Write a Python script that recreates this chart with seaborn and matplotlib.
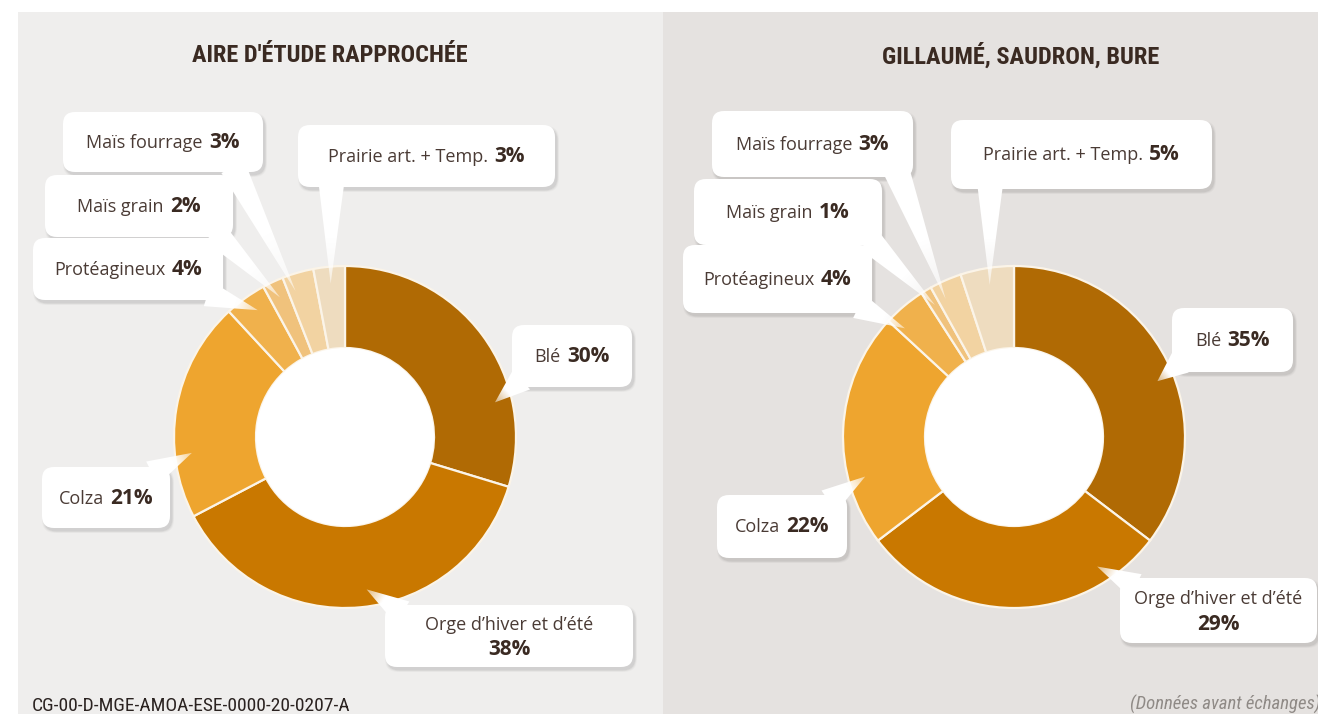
import numpy as np
import matplotlib
matplotlib.use("Agg")
import matplotlib.pyplot as plt
import seaborn as sns
from matplotlib import font_manager
from matplotlib.patches import FancyBboxPatch, Polygon, Rectangle

sns.set_theme(style="white")
plt.rcParams["font.family"] = ["Open Sans", "DejaVu Sans"]

W, H = 1318, 714

# ---- data -------------------------------------------------------------
categories = ["Blé", "Orge d’hiver et d’été", "Colza", "Protéagineux",
              "Maïs grain", "Maïs fourrage", "Prairie art. + Temp."]
values_aire = [30, 38, 21, 4, 2, 3, 3]
values_communes = [35, 29, 22, 4, 1, 3, 5]
panel_titles = ["AIRE D'ÉTUDE RAPPROCHÉE", "GILLAUMÉ, SAUDRON, BURE"]
ref_note = "CG-00-D-MGE-AMOA-ESE-0000-20-0207-A"
data_note = "(Données avant échanges)"

palette = sns.color_palette(["#b06a04", "#c97800", "#eea52f", "#f0b14c",
                             "#f0c27c", "#f2d3a2", "#eedcbf"])
TXT = "#3a2a22"
TXT_NAME = "#4a3b35"

# narrowest available family for the headings
_installed = {f.name for f in font_manager.fontManager.ttflist}
_narrow = [f for f in ["Liberation Sans Narrow", "DejaVu Sans Condensed",
                       "Roboto Condensed", "Open Sans Condensed", "Lato"]
           if f in _installed]
TITLE_FONT = (_narrow[:1] or ["DejaVu Sans"]) + ["DejaVu Sans"]

# ---- layout (pixels, y measured from the top) -------------------------
# label boxes: (x0, y0, x1, y1); tail base as fraction of box (rx, ry from bottom);
# tip position as fraction across the wedge angle
two_line = [False, True, False, False, False, False, False]
panels = [
    dict(values=values_aire, title=panel_titles[0], x0=18, x1=663, bg="#efeeed",
         center=(345, 437), title_x=330, title_w=276,
         boxes=[(512, 325, 632, 387), (385, 605, 633, 667), (42, 467, 170, 528),
                (33, 238, 223, 300), (45, 175, 233, 237), (63, 112, 263, 172),
                (298, 125, 555, 187)],
         bases=[(0.08, 0.12), (0.07, 0.88), (0.86, 0.9), (0.92, 0.1),
                (0.9, 0.08), (0.85, 0.08), (0.13, 0.08)],
         tips=[0.28, 0.52, 0.71, 0.42, 0.5, 0.75, 0.5]),
    dict(values=values_communes, title=panel_titles[1], x0=663, x1=W, bg="#e5e2e0",
         center=(1014, 437), title_x=1021, title_w=278,
         boxes=[(1172, 308, 1293, 372), (1120, 578, 1317, 643), (717, 495, 847, 558),
                (683, 245, 872, 313), (694, 179, 882, 245), (712, 111, 913, 177),
                (951, 120, 1212, 189)],
         bases=[(0.07, 0.15), (0.08, 0.88), (0.86, 0.9), (0.93, 0.1),
                (0.93, 0.08), (0.92, 0.08), (0.15, 0.08)],
         tips=[0.46, 0.81, 0.72, 0.85, 0.5, 0.75, 0.5]),
]

R_OUT, R_IN = 171, 89

fig = plt.figure(figsize=(W / 100, H / 100), dpi=100)
fig.patch.set_facecolor("white")
ax = fig.add_axes([0, 0, 1, 1])
renderer = fig.canvas.get_renderer()


def up(py):
    return H - py


def fit_width(txt, width):
    """Scale a text's font size so that it spans the given width in pixels."""
    cur = txt.get_window_extent(renderer).width
    txt.set_fontsize(txt.get_fontsize() * width / cur)


def draw_tail(base, tip, hw=13):
    b = np.asarray(base, float)
    t = np.asarray(tip, float)
    d = t - b
    L = np.hypot(*d)
    u = d / L
    n = np.array([-u[1], u[0]])
    poly = np.array([b + n * hw, b - n * hw, t])
    clip = Polygon(poly, closed=True, fc="none", ec="none")
    ax.add_patch(clip)
    xmin, ymin = poly.min(0) - 2
    xmax, ymax = poly.max(0) + 2
    nx, ny = int(xmax - xmin) + 2, int(ymax - ymin) + 2
    X, Y = np.meshgrid(np.linspace(xmin, xmax, nx), np.linspace(ymin, ymax, ny))
    s = ((X - b[0]) * u[0] + (Y - b[1]) * u[1]) / L
    img = np.ones((ny, nx, 4))
    img[..., 3] = np.clip(1 - 0.5 * (s - 0.55) / 0.45, 0.5, 1.0)
    im = ax.imshow(img, extent=(xmin, xmax, ymin, ymax), origin="lower",
                   aspect="auto", interpolation="bilinear", zorder=3)
    im.set_clip_path(clip)


def draw_box(box):
    x0, y0, x1, y1 = box
    w, h = x1 - x0, y1 - y0
    for grow, a in [(4, 0.025), (2.5, 0.04), (1, 0.06)]:
        ax.add_patch(FancyBboxPatch((x0 + 2 - grow / 2, up(y1) - 3 - grow / 2),
                                    w + grow, h + grow,
                                    boxstyle="round,pad=0,rounding_size=13",
                                    fc="black", ec="none", alpha=a, zorder=2))
    ax.add_patch(FancyBboxPatch((x0, up(y1)), w, h,
                                boxstyle="round,pad=0,rounding_size=12",
                                fc="white", ec="none", zorder=4))


def draw_label(box, name, value, split):
    x0, y0, x1, y1 = box
    cx = (x0 + x1) / 2
    cy = up((y0 + y1) / 2)
    pct = f"{value}%"
    if split:
        ax.text(cx, cy + 6, name, ha="center", va="baseline", fontsize=13,
                color=TXT_NAME, zorder=5)
        ax.text(cx, cy - 19, pct, ha="center", va="baseline", fontsize=15,
                fontweight="bold", color=TXT, zorder=5)
        return
    t1 = ax.text(0, cy - 6, name, ha="left", va="baseline", fontsize=13,
                 color=TXT_NAME, zorder=5)
    t2 = ax.text(0, cy - 6, pct, ha="left", va="baseline", fontsize=15,
                 fontweight="bold", color=TXT, zorder=5)
    w1 = t1.get_window_extent(renderer).width
    w2 = t2.get_window_extent(renderer).width
    gap = 6
    start = cx - (w1 + gap + w2) / 2
    t1.set_x(start)
    t2.set_x(start + w1 + gap)


for p in panels:
    ax.add_patch(Rectangle((p["x0"], 0), p["x1"] - p["x0"], H - 12,
                           fc=p["bg"], ec="none", zorder=0))
    cx, cy = p["center"][0], up(p["center"][1])
    wedges, _ = ax.pie(p["values"], colors=palette, startangle=90,
                       counterclock=False, radius=R_OUT, center=(cx, cy),
                       frame=True,
                       wedgeprops=dict(width=R_OUT - R_IN, edgecolor="#fbf4e8",
                                       linewidth=1.6))
    ax.add_patch(plt.Circle((cx, cy), R_IN, fc="white", ec="none", zorder=1.5))

    for i, (wdg, name, val) in enumerate(zip(wedges, categories, p["values"])):
        ang = np.deg2rad(wdg.theta1 + p["tips"][i] * (wdg.theta2 - wdg.theta1))
        tip = (cx + 0.9 * R_OUT * np.cos(ang), cy + 0.9 * R_OUT * np.sin(ang))
        x0, y0, x1, y1 = p["boxes"][i]
        rx, ry = p["bases"][i]
        base = (x0 + rx * (x1 - x0), up(y1) + ry * (y1 - y0))
        draw_box(p["boxes"][i])
        draw_tail(base, tip)
        draw_label(p["boxes"][i], name, val, two_line[i])

    t = ax.text(p["title_x"], up(56), p["title"], ha="center", va="center",
                fontsize=16, fontweight="bold", family=TITLE_FONT, color=TXT)
    fit_width(t, p["title_w"])

t = ax.text(32, up(706), ref_note, ha="left", va="center", fontsize=10.5,
            family=TITLE_FONT, color="#2a2220")
fit_width(t, 322)
t = ax.text(W + 2, up(704), data_note, ha="right", va="center", fontsize=10.5,
            style="italic", family=TITLE_FONT, color="#8f8a86")
fit_width(t, 192)

ax.set_xlim(0, W)
ax.set_ylim(0, H)
ax.set_aspect("auto")
ax.axis("off")

fig.savefig("out.png", dpi=100, facecolor="white")
